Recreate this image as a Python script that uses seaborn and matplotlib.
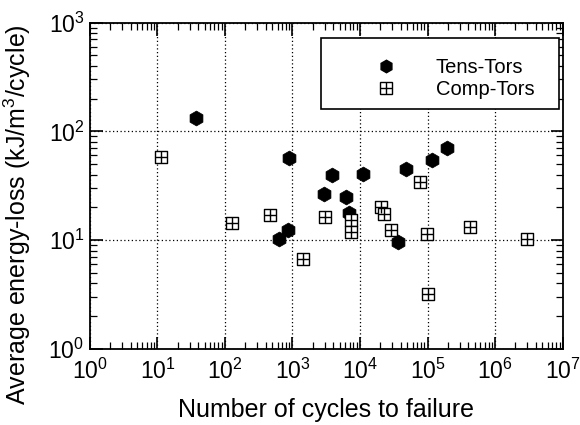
import numpy as np
import pandas as pd
import matplotlib
matplotlib.use("Agg")
import matplotlib.pyplot as plt
import matplotlib.ticker as mticker
from matplotlib.patches import Rectangle
from matplotlib.lines import Line2D
import seaborn as sns

# ---- data ----
tens_cycles = [37, 879, 2890, 849, 640, 3845, 6190, 6760, 11150, 47600, 117800, 196000, 37000]
tens_energy = [132, 57.2, 26.5, 12.3, 10.2, 39.6, 25.0, 17.6, 40.5, 45.0, 54.5, 69.7, 9.6]

comp_cycles = [11.2, 126, 467, 1449, 3060, 7330, 7330, 20300, 22700, 29200, 76700, 97300, 424000, 2.98e6, 103000]
comp_energy = [58, 14.4, 16.9, 6.76, 16.4, 15.2, 11.9, 20.2, 17.2, 12.3, 34.4, 11.3, 13.2, 10.2, 3.18]

series_names = ["Tens-Tors", "Comp-Tors"]
x_label = "Number of cycles to failure"
y_label = "Average energy-loss (kJ/m$^3$/cycle)"

tens = pd.DataFrame({"cycles": tens_cycles, "energy": tens_energy})
comp = pd.DataFrame({"cycles": comp_cycles, "energy": comp_energy})

sns.set_style("ticks")
plt.rcParams["font.family"] = ["Liberation Sans", "DejaVu Sans"]
plt.rcParams["mathtext.fontset"] = "custom"
plt.rcParams["mathtext.rm"] = "Liberation Sans"
plt.rcParams["mathtext.it"] = "Liberation Sans:italic"
plt.rcParams["mathtext.bf"] = "Liberation Sans:bold"
plt.rcParams["text.color"] = "black"
plt.rcParams["axes.labelcolor"] = "black"
plt.rcParams["xtick.color"] = "black"
plt.rcParams["ytick.color"] = "black"

fig = plt.figure(figsize=(5.8, 4.25), dpi=100)
ax = fig.add_axes([0.155, 0.179, 0.815, 0.768])

sns.scatterplot(data=tens, x="cycles", y="energy", ax=ax, marker="h", s=115,
                color="black", edgecolor="black", linewidth=0.5, zorder=3)
sns.scatterplot(data=comp, x="cycles", y="energy", ax=ax, marker="s", s=85,
                facecolor="white", edgecolor="black", linewidth=1.0, zorder=3)
sns.scatterplot(data=comp, x="cycles", y="energy", ax=ax, marker="+", s=85,
                color="black", linewidth=1.0, zorder=4)

ax.set_xscale("log")
ax.set_yscale("log")
ax.set_xlim(1, 1e7)
ax.set_ylim(1, 1e3)

ax.xaxis.set_major_locator(mticker.LogLocator(base=10, numticks=20))
ax.yaxis.set_major_locator(mticker.LogLocator(base=10, numticks=20))
ax.xaxis.set_minor_locator(mticker.LogLocator(base=10, subs=np.arange(2, 10), numticks=20))
ax.yaxis.set_minor_locator(mticker.LogLocator(base=10, subs=np.arange(2, 10), numticks=20))
ax.xaxis.set_minor_formatter(mticker.NullFormatter())
ax.yaxis.set_minor_formatter(mticker.NullFormatter())

ax.grid(True, which="major", color="black", linestyle=(0, (1, 2)), linewidth=0.9)
ax.tick_params(which="both", direction="in", top=True, right=True, colors="black",
               labelcolor="black")
ax.tick_params(which="major", length=9, width=1.2, labelsize=16.5)
ax.tick_params(axis="x", which="major", pad=7)
ax.tick_params(axis="y", which="major", pad=4)
ax.tick_params(which="minor", length=5, width=0.9)
for sp in ax.spines.values():
    sp.set_linewidth(1.3)
    sp.set_color("black")

ax.set_xlabel(x_label, fontsize=18, color="black")
ax.set_ylabel(y_label, fontsize=18, color="black")
ax.xaxis.set_label_coords(0.5, -0.15)
ax.yaxis.set_label_coords(-0.12, 0.41)

# legend box
ax.add_patch(Rectangle((0.489, 0.736), 0.504, 0.217, transform=ax.transAxes,
                       facecolor="white", edgecolor="black", linewidth=1.2, zorder=5))
handles = [
    Line2D([], [], linestyle="none", marker="h", markersize=9, color="black"),
    (Line2D([], [], linestyle="none", marker="s", markersize=8, markerfacecolor="white",
            markeredgecolor="black", markeredgewidth=1.0),
     Line2D([], [], linestyle="none", marker="+", markersize=8, color="black", markeredgewidth=1.0)),
]
leg = ax.legend(handles, series_names, loc="upper left", bbox_to_anchor=(0.593, 0.89),
                frameon=False, fontsize=14.5, borderpad=0, borderaxespad=0,
                handlelength=1.6, handletextpad=1.65, labelspacing=0.15)
for t in leg.get_texts():
    t.set_color("black")
leg.set_zorder(6)

fig.savefig("out.png", dpi=100)
